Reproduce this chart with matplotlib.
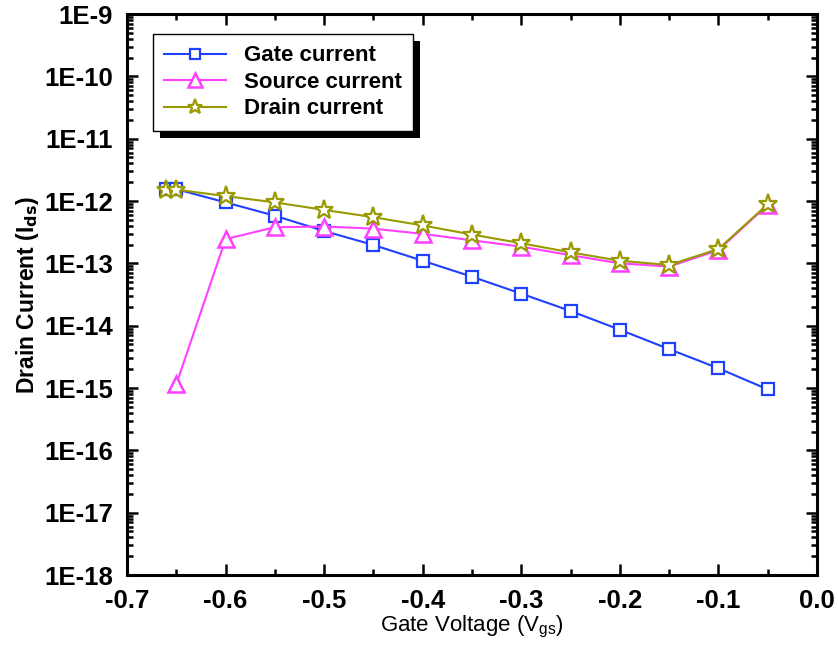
import numpy as np
import matplotlib
matplotlib.use("Agg")
import matplotlib.pyplot as plt
from matplotlib.ticker import FixedLocator, FuncFormatter, LogLocator, NullFormatter, MultipleLocator
from matplotlib.patches import Rectangle

plt.rcParams['font.family'] = ['Liberation Sans', 'DejaVu Sans']

# data
vgs_gate = [-0.66, -0.65, -0.60, -0.55, -0.50, -0.45, -0.40, -0.35, -0.30, -0.25, -0.20, -0.15, -0.10, -0.05]
i_gate = [1.55e-12, 1.55e-12, 9.5e-13, 5.8e-13, 3.3e-13, 1.97e-13, 1.1e-13, 6.1e-14, 3.26e-14, 1.72e-14,
          8.6e-15, 4.2e-15, 2.07e-15, 9.5e-16]

vgs_source = [-0.65, -0.60, -0.55, -0.50, -0.45, -0.40, -0.35, -0.30, -0.25, -0.20, -0.15, -0.10, -0.05]
i_source = [1.15e-15, 2.45e-13, 3.8e-13, 3.9e-13, 3.6e-13, 2.97e-13, 2.34e-13, 1.85e-13, 1.35e-13,
            1.0e-13, 8.9e-14, 1.63e-13, 8.7e-13]

vgs_drain = [-0.66, -0.65, -0.60, -0.55, -0.50, -0.45, -0.40, -0.35, -0.30, -0.25, -0.20, -0.15, -0.10, -0.05]
i_drain = [1.52e-12, 1.52e-12, 1.2e-12, 9.5e-13, 7.2e-13, 5.5e-13, 4.05e-13, 2.9e-13, 2.1e-13, 1.5e-13,
           1.1e-13, 9.4e-14, 1.7e-13, 8.9e-13]

x_ticks = [-0.7, -0.6, -0.5, -0.4, -0.3, -0.2, -0.1, 0.0]
y_decades = list(range(-18, -8))

fig = plt.figure(figsize=(8.38, 6.46), dpi=100)
ax = fig.add_axes([0.1516, 0.1099, 0.8234, 0.8684])

ax.plot(vgs_gate, i_gate, color='#2040ff', lw=1.5, marker='s', ms=9, mfc='white', mec='#2040ff',
        mew=1.6, label='Gate current')
ax.plot(vgs_source, i_source, color='#ff40ff', lw=1.5, marker='^', ms=12, mfc='white', mec='#ff40ff',
        mew=1.8, label='Source current')
ax.plot(vgs_drain, i_drain, color='#999900', lw=1.5, marker='*', ms=14, mfc='white', mec='#999900',
        mew=1.6, label='Drain current')

ax.set_yscale('log')
ax.set_xlim(-0.7, 0.0)
ax.set_ylim(1e-18, 1e-9)

ax.xaxis.set_major_locator(FixedLocator(x_ticks))
ax.xaxis.set_minor_locator(MultipleLocator(0.05))
ax.xaxis.set_major_formatter(FuncFormatter(lambda v, p: '%.1f' % v))
ax.yaxis.set_major_locator(FixedLocator([10.0 ** d for d in y_decades]))
ax.yaxis.set_major_formatter(FuncFormatter(lambda v, p: '1E%d' % int(round(np.log10(v)))))
ax.yaxis.set_minor_locator(LogLocator(base=10, subs=np.arange(2, 10), numticks=20))
ax.yaxis.set_minor_formatter(NullFormatter())

ax.tick_params(which='both', direction='in', top=True, right=True, width=1.8)
ax.tick_params(which='major', length=8, labelsize=18.5)
ax.tick_params(axis='x', which='major', pad=10)
ax.tick_params(axis='y', which='major', pad=10)
ax.tick_params(which='minor', length=4)
for lab in ax.get_xticklabels() + ax.get_yticklabels():
    lab.set_fontweight('bold')
for s in ax.spines.values():
    s.set_linewidth(2.2)

ax.set_xlabel('Gate Voltage (V$_{\\mathregular{gs}}$)', fontsize=16, labelpad=1)
ax.set_ylabel('Drain Current (I$_{\\mathbf{ds}}$)', fontsize=16.5, fontweight='bold', labelpad=2)

leg = ax.legend(loc='upper left', bbox_to_anchor=(0.037, 0.964), borderaxespad=0, frameon=True,
                fancybox=False, edgecolor='black', framealpha=1, numpoints=1, handlelength=2.8,
                labelspacing=0.25, borderpad=0.5, handletextpad=0.8, markerscale=0.8,
                prop={'size': 16, 'weight': 'bold'})
leg.get_frame().set_linewidth(1.0)

# shadow behind legend box
fig.canvas.draw()
bb = leg.get_window_extent()
shadow = Rectangle((bb.x0 + 7, bb.y0 - 7), bb.width, bb.height, transform=None, clip_on=False,
                   facecolor='black', edgecolor='none', zorder=leg.get_zorder() - 0.5)
ax.add_artist(shadow)

fig.savefig('out.png', dpi=100)
